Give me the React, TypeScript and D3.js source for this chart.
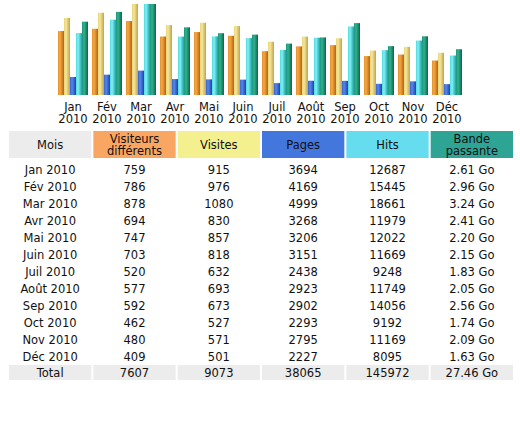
import React from "react";
import * as d3 from "d3";

const months = ["Jan", "Fév", "Mar", "Avr", "Mai", "Juin", "Juil", "Août", "Sep", "Oct", "Nov", "Déc"];
const year = "2010";
const visitors = [759, 786, 878, 694, 747, 703, 520, 577, 592, 462, 480, 409];
const visits = [915, 976, 1080, 830, 857, 818, 632, 693, 673, 527, 571, 501];
const pages = [3694, 4169, 4999, 3268, 3206, 3151, 2438, 2923, 2902, 2293, 2795, 2227];
const hits = [12687, 15445, 18661, 11979, 12022, 11669, 9248, 11749, 14056, 9192, 11169, 8095];
const bandwidth = [2.61, 2.96, 3.24, 2.41, 2.2, 2.15, 1.83, 2.05, 2.56, 1.74, 2.09, 1.63];
const headers = [["Mois"], ["Visiteurs", "différents"], ["Visites"], ["Pages"], ["Hits"], ["Bande", "passante"]];
const totalLabels = ["Total", "7607", "9073", "38065", "145972", "27.46 Go"];

const headerColors = ["#ECECEC", "#FAA663", "#F4F090", "#4477DD", "#66DDEE", "#2EA495"];
const gradients = [
  ["#E8922A", "#F2A846", "#B8620E"],
  ["#EAD478", "#F4E69A", "#C0A446"],
  ["#3466D8", "#5A86E8", "#1A44AA"],
  ["#4CDCE2", "#86EEF0", "#14A2AE"],
  ["#1C987A", "#34B090", "#086648"],
];

const FONT = "'DejaVu Sans', Verdana, sans-serif";

export default function App() {
  const x = d3.scaleBand<string>().domain(months).range([56, 464]).paddingInner(4 / 34).paddingOuter(2 / 34);
  const series = [visitors, visits, pages, hits, bandwidth];
  const sub = d3.scaleBand<number>().domain([0, 1, 2, 3, 4]).range([0, x.bandwidth()]);
  const yV = d3.scaleLinear().domain([0, d3.max(visits)!]).range([95, 4]);
  const yH = d3.scaleLinear().domain([0, d3.max(hits)!]).range([95, 4]);
  const yB = d3.scaleLinear().domain([0, d3.max(bandwidth)!]).range([95, 4]);
  const yScales = [yV, yV, yH, yH, yB];

  const col = d3.scaleBand<number>().domain(d3.range(6)).range([9, 513]).paddingInner(2 / 84).paddingOuter(0);
  const rowY = d3.scaleLinear().domain([0, 11]).range([169.5, 356.5]);

  const rows = months.map((m, i) => [
    `${m} ${year}`,
    String(visitors[i]),
    String(visits[i]),
    String(pages[i]),
    String(hits[i]),
    `${bandwidth[i].toFixed(2)} Go`,
  ]);

  return (
    <svg width={520} height={430} style={{ position: "absolute", left: 0, top: 0, background: "#fff" }} fontFamily={FONT} fontSize={11.5}>
      <defs>
        {gradients.map((g, k) => (
          <linearGradient key={k} id={`g${k}`} x1="0" x2="1" y1="0" y2="0">
            <stop offset="0" stopColor={g[0]} />
            <stop offset="0.35" stopColor={g[1]} />
            <stop offset="1" stopColor={g[2]} />
          </linearGradient>
        ))}
      </defs>
      {months.map((m, i) => (
        <g key={m} transform={`translate(${x(m)},0)`}>
          {series.map((s, k) => (
            <rect key={k} x={sub(k)} y={yScales[k](s[i])} width={sub.bandwidth()} height={95 - yScales[k](s[i])} fill={`url(#g${k})`} />
          ))}
          <text x={x.bandwidth() / 2} y={111} textAnchor="middle" fill="#111">{m}</text>
          <text x={x.bandwidth() / 2} y={122.5} textAnchor="middle" fill="#111">{year}</text>
        </g>
      ))}
      {headers.map((h, j) => (
        <g key={j}>
          <rect x={col(j)} y={131} width={col.bandwidth()} height={27} fill={headerColors[j]} />
          {h.length === 1 ? (
            <text x={col(j)! + col.bandwidth() / 2} y={148.5} textAnchor="middle" fill="#111">{h[0]}</text>
          ) : (
            h.map((line, l) => (
              <text key={l} x={col(j)! + col.bandwidth() / 2} y={142.5 + l * 12} textAnchor="middle" fill="#111">{line}</text>
            ))
          )}
        </g>
      ))}
      {rows.map((r, i) => (
        <g key={i}>
          {r.map((c, j) => (
            <text key={j} x={col(j)! + col.bandwidth() / 2} y={rowY(i) + 4} textAnchor="middle" fill="#111">{c}</text>
          ))}
        </g>
      ))}
      {totalLabels.map((t, j) => (
        <g key={j}>
          <rect x={col(j)} y={365} width={col.bandwidth()} height={15} fill="#ECECEC" />
          <text x={col(j)! + col.bandwidth() / 2} y={376.5} textAnchor="middle" fill="#111">{t}</text>
        </g>
      ))}
    </svg>
  );
}
